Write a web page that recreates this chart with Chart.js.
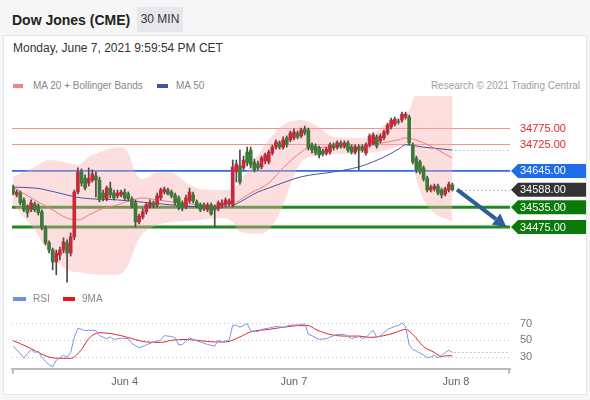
<!DOCTYPE html>
<html>
<head>
<meta charset="utf-8">
<script src="https://cdn.jsdelivr.net/npm/chart.js@4.4.0/dist/chart.umd.min.js"></script>
<style>
  body { margin: 0; width: 590px; height: 400px; background: #f6f6f6; position: relative; overflow: hidden;
         font-family: 'Liberation Sans', Arial, sans-serif; }
  .panel { position: absolute; left: 3px; top: 35px; width: 584px; height: 360px; background: #fff;
           border: 1px solid #e6e6e6; box-sizing: border-box; }
  .title { position: absolute; left: 12px; top: 12px; font-size: 14px; font-weight: bold; color: #222; }
  .tf { position: absolute; left: 137px; top: 7px; width: 46px; height: 25px; line-height: 25px; text-align: center;
        background: #e8e8ec; font-size: 12px; color: #333; }
  .date { position: absolute; left: 13px; top: 41px; font-size: 12px; color: #333; }
  .lg { position: absolute; font-size: 10px; line-height: 12px; color: #888; white-space: nowrap; z-index: 2; }
  .sw { position: absolute; height: 4px; z-index: 2; }
  canvas { position: absolute; left: 0; }
</style>
</head>
<body>
<div class="panel"></div>
<div class="title">Dow Jones (CME)</div>
<div class="tf">30 MIN</div>
<div class="date">Monday, June 7, 2021 9:59:54 PM CET</div>

<div class="sw" style="left:13px; top:84px; width:10px; background:#f08585;"></div>
<div class="lg" style="left:33px; top:80px;">MA 20 + Bollinger Bands</div>
<div class="sw" style="left:157px; top:84px; width:11px; background:#3d5a9e;"></div>
<div class="lg" style="left:176px; top:80px;">MA 50</div>
<div class="lg" style="right:10px; top:80px; color:#a0a0a0;">Research © 2021 Trading Central</div>

<div class="sw" style="left:13px; top:297px; width:13px; background:#6f8fe0;"></div>
<div class="lg" style="left:33px; top:293px;">RSI</div>
<div class="sw" style="left:63px; top:297px; width:12px; background:#e8141e;"></div>
<div class="lg" style="left:82px; top:293px;">9MA</div>

<canvas id="mainChart" width="590" height="192" style="top:96px;"></canvas>
<canvas id="rsiChart" width="590" height="100" style="top:296px;"></canvas>

<script>
// 30 min candles, Jun 3 -> Jun 7 evening
const opens = [34593,34572,34578,34557,34536,34527,34545,34539,34521,34472,
  34427,34405,34369,34390,34405,34427,34396,34445,34581,34642,
  34623,34608,34617,34630,34617,34578,34560,34593,34578,34569,
  34572,34581,34575,34560,34548,34490,34505,34521,34539,34548,
  34542,34563,34581,34587,34581,34572,34563,34548,34536,34554,
  34572,34551,34542,34542,34527,34542,34536,34530,34539,34542,
  34545,34542,34642,34660,34654,34702,34708,34672,34666,34657,
  34675,34672,34699,34717,34730,34717,34745,34739,34745,34760,
  34751,34772,34769,34724,34720,34715,34705,34699,34702,34724,
  34717,34730,34720,34730,34717,34702,34717,34717,34699,34724,
  34727,34748,34736,34745,34760,34778,34787,34796,34799,34808,
  34808,34724,34684,34672,34654,34623,34587,34590,34599,34587,
  34575,34587,34602];
const highs = [34602,34587,34584,34563,34542,34557,34551,34545,34527,34478,
  34433,34411,34405,34414,34442,34436,34457,34587,34654,34651,
  34633,34654,34648,34642,34626,34587,34599,34611,34587,34587,
  34587,34590,34581,34566,34557,34514,34530,34548,34557,34554,
  34578,34593,34596,34593,34587,34578,34569,34554,34572,34593,
  34581,34557,34548,34548,34548,34548,34542,34554,34557,34563,
  34560,34678,34678,34708,34690,34717,34717,34681,34675,34690,
  34699,34708,34723,34739,34736,34748,34751,34766,34772,34766,
  34775,34781,34775,34730,34727,34720,34711,34717,34730,34730,
  34736,34736,34736,34736,34724,34724,34724,34724,34730,34757,
  34760,34754,34757,34769,34790,34805,34808,34802,34823,34823,
  34814,34730,34690,34678,34660,34629,34602,34605,34605,34593,
  34596,34611,34608];
const lows = [34572,34566,34542,34521,34505,34521,34521,34511,34466,34421,
  34396,34345,34330,34375,34396,34308,34387,34436,34575,34599,
  34587,34599,34611,34566,34551,34554,34554,34563,34557,34563,
  34566,34557,34554,34533,34475,34484,34499,34514,34533,34533,
  34536,34557,34575,34572,34563,34542,34527,34524,34530,34548,
  34548,34533,34521,34524,34521,34511,34475,34524,34533,34536,
  34539,34536,34611,34605,34648,34660,34654,34642,34648,34651,
  34666,34666,34693,34711,34711,34711,34717,34733,34739,34742,
  34745,34754,34708,34699,34693,34684,34690,34693,34696,34708,
  34711,34714,34714,34702,34696,34696,34648,34702,34693,34717,
  34724,34714,34730,34739,34754,34772,34781,34787,34793,34802,
  34724,34666,34639,34636,34614,34581,34581,34584,34572,34563,
  34569,34581,34584];
const closes = [34578,34581,34548,34527,34518,34548,34527,34518,34472,34427,
  34405,34369,34396,34405,34430,34396,34445,34581,34642,34608,
  34593,34623,34636,34617,34557,34563,34593,34572,34563,34578,
  34581,34563,34560,34539,34490,34508,34521,34542,34548,34539,
  34569,34587,34590,34575,34569,34548,34533,34533,34563,34581,
  34554,34539,34527,34530,34542,34514,34527,34548,34548,34557,
  34554,34657,34666,34611,34678,34669,34663,34648,34654,34684,
  34693,34702,34717,34733,34717,34739,34724,34760,34763,34748,
  34769,34760,34715,34708,34699,34693,34696,34711,34724,34715,
  34730,34720,34730,34708,34702,34717,34708,34708,34724,34751,
  34754,34720,34751,34763,34784,34799,34802,34793,34817,34817,
  34730,34672,34648,34642,34620,34587,34596,34599,34578,34572,
  34590,34605,34588];

// indicators as [candle index, value]
const ma20Pts = [[0,34596],[6,34557],[10,34533],[15,34502],[18,34496],[21,34511],[24,34527],[29,34542],
  [33,34557],[36,34563],[40,34557],[44,34551],[52,34542],[60,34536],[62,34550],[66,34578],[71,34608],
  [75,34654],[80,34702],[82,34714],[89,34717],[98,34720],[104,34733],[107,34739],[109,34745],[114,34730],[122,34684]];
const ma50Pts = [[0,34596],[6,34593],[8,34590],[15,34572],[19,34563],[29,34557],[38,34548],[44,34542],
  [52,34536],[60,34536],[62,34545],[68,34581],[71,34593],[80,34627],[89,34642],[96,34657],[103,34687],
  [107,34711],[109,34724],[114,34717],[122,34708]];
const bbUpperPts = [[0,34627],[6,34657],[10,34678],[15,34669],[18,34663],[21,34687],[24,34702],[29,34717],
  [32,34700],[34,34640],[36,34620],[40,34640],[44,34640],[48,34610],[52,34590],[58,34587],[62,34600],
  [66,34663],[71,34739],[75,34784],[80,34799],[84,34784],[89,34748],[98,34745],[103,34784],[107,34805],
  [110,34830],[112,34880],[122,34880]];
const bbLowerPts = [[0,34542],[6,34466],[10,34396],[15,34345],[19,34336],[24,34330],[29,34330],[32,34360],
  [35,34440],[40,34480],[44,34490],[52,34496],[58,34502],[61,34490],[63,34460],[69,34455],[72,34480],
  [75,34540],[78,34630],[80,34670],[84,34690],[98,34699],[104,34708],[108,34724],[110,34730],[112,34620],
  [115,34540],[122,34490]];

const rsiPts = [[0,42.7],[1,39],[3,29],[4,34],[5,39],[6,35.5],[7,37],[8,30],[9,24.5],[10,21],[11,18.5],
  [12,26],[14,32],[15,30],[16,35.5],[17,53.5],[18,64.5],[20,61.5],[21,62],[23,61.5],[24,55.5],[26,51.8],
  [27,54],[28,51],[30,52.5],[32,52],[33,46.3],[35,41],[37,44.5],[39,48],[41,50],[42,55.5],[44,54.5],
  [45,53],[46,44.5],[47,45],[49,53],[50,51],[52,48],[54,45],[56,43],[57,50],[58,48],[60,50],[61,68],
  [62,68],[63,65.5],[65,70],[66,61],[68,60.5],[69,63],[71,64.5],[73,66.5],[75,65.5],[77,68],[80,68.5],
  [81,70],[82,57],[83,55.5],[85,51],[87,52],[89,55.5],[90,57],[92,57],[94,52],[96,54.5],[97,52],
  [98,53.5],[100,62],[101,53.5],[102,55.5],[104,63],[106,66.5],[107,67.5],[108,70.5],[109,66.5],
  [110,44.5],[111,39],[112,37],[114,32.5],[115,29],[116,30],[117,32],[118,29],[119,32],[120,35.5],
  [121,38],[122,35.5]];
const rsiMaPts = [[0,49.5],[2,46],[5,40],[7,35.5],[10,30],[13,28.5],[16,28.5],[19,39],[21,52],[24,59],
  [27,58],[30,55.5],[33,52],[37,48],[41,47.5],[44,50],[48,51],[52,49.5],[56,48],[59,48],[63,54],[66,60],
  [71,63],[75,65.5],[80,67.5],[82,67.5],[84,63],[88,57],[92,55],[96,55],[99,53.5],[103,55.5],[106,59],
  [109,63],[111,57],[114,42.5],[117,35.5],[119,30.5],[120,31.5],[122,31.5]];

const dateTickIdx = [31, 78, 123];
const dateTickText = ['Jun 4', 'Jun 7', 'Jun 8'];
const rsiTicks = [30, 50, 70];

const resistance = [34775, 34725];
const pivot = 34645;
const support = [34535, 34475];
const arrowTarget = 34475;
const arrowTargetIdx = 137;
const lastSlot = 138;

const FONT = "'Liberation Sans', Arial, sans-serif";
Chart.defaults.font.family = FONT;

const toXY = pts => pts.map(p => ({ x: p[0], y: p[1] }));
const lastIdx = closes.length - 1;
const upColor = '#c8283a';
const downColor = '#3b7b36';
const bodyColors = closes.map((c, i) => c >= opens[i] ? upColor : downColor);

function hline(ctx, x0, x1, y, color, width, dash) {
  ctx.save();
  ctx.strokeStyle = color;
  ctx.lineWidth = width;
  ctx.setLineDash(dash || []);
  ctx.beginPath();
  ctx.moveTo(x0, y);
  ctx.lineTo(x1, y);
  ctx.stroke();
  ctx.restore();
}

function tag(ctx, right, y, color, text) {
  ctx.fillStyle = color;
  ctx.beginPath();
  ctx.moveTo(right + 1, y);
  ctx.lineTo(right + 8, y - 7);
  ctx.lineTo(right + 76, y - 7);
  ctx.lineTo(right + 76, y + 7);
  ctx.lineTo(right + 8, y + 7);
  ctx.closePath();
  ctx.fill();
  ctx.fillStyle = '#fff';
  ctx.fillText(text, right + 10, y + 0.5);
}

const levelPlugin = {
  id: 'levels',
  beforeDatasetsDraw(chart) {
    const { ctx, chartArea: a, scales: { y } } = chart;
    resistance.forEach(v => hline(ctx, a.left, a.right, Math.round(y.getPixelForValue(v)) + 0.5, '#f3918d', 1));
    hline(ctx, a.left, a.right, y.getPixelForValue(pivot), '#2f6af0', 1.6);
    support.forEach(v => hline(ctx, a.left, a.right, y.getPixelForValue(v), '#1d8a1d', 3));
  },
  afterDraw(chart) {
    const { ctx, chartArea: a, scales: { x, y } } = chart;
    const endX = x.getPixelForValue(lastIdx) + 3;
    const ma50Last = ma50Pts[ma50Pts.length - 1][1];
    hline(ctx, endX, a.right, Math.round(y.getPixelForValue(ma50Last)) + 0.5, '#8899bb', 1, [1, 3]);
    hline(ctx, endX + 2, a.right, Math.round(y.getPixelForValue(closes[lastIdx])) + 0.5, '#777', 1, [1, 3]);

    ctx.save();
    ctx.font = '11px ' + FONT;
    ctx.textBaseline = 'middle';
    ctx.textAlign = 'left';
    ctx.fillStyle = '#e0262e';
    resistance.forEach(v => ctx.fillText(v.toFixed(2), a.right + 10, y.getPixelForValue(v) + 0.5));
    tag(ctx, a.right, y.getPixelForValue(pivot), '#1f6ce8', pivot.toFixed(2));
    tag(ctx, a.right, y.getPixelForValue(closes[lastIdx]), '#333333', closes[lastIdx].toFixed(2));
    support.forEach(v => tag(ctx, a.right, y.getPixelForValue(v), '#0b7a0b', v.toFixed(2)));

    // projected move arrow
    const x0 = x.getPixelForValue(lastIdx + 1.3), y0 = y.getPixelForValue(closes[lastIdx]);
    const x1 = x.getPixelForValue(arrowTargetIdx), y1 = y.getPixelForValue(arrowTarget);
    const ang = Math.atan2(y1 - y0, x1 - x0);
    const head = 13, half = 7;
    const bx = x1 - head * Math.cos(ang), by = y1 - head * Math.sin(ang);
    ctx.strokeStyle = '#2e5d9b';
    ctx.fillStyle = '#2e5d9b';
    ctx.lineWidth = 4;
    ctx.beginPath();
    ctx.moveTo(x0, y0);
    ctx.lineTo(bx, by);
    ctx.stroke();
    ctx.beginPath();
    ctx.moveTo(x1, y1);
    ctx.lineTo(bx + half * Math.sin(ang), by - half * Math.cos(ang));
    ctx.lineTo(bx - half * Math.sin(ang), by + half * Math.cos(ang));
    ctx.closePath();
    ctx.fill();
    ctx.restore();
  }
};

new Chart(document.getElementById('mainChart'), {
  type: 'bar',
  data: {
    datasets: [
      { type: 'bar', data: opens.map((o, i) => ({ x: i, y: [o, closes[i]] })), backgroundColor: bodyColors,
        barThickness: 3, grouped: false, order: 0 },
      { type: 'bar', data: lows.map((l, i) => ({ x: i, y: [l, highs[i]] })), backgroundColor: '#4a4a4a',
        barThickness: 1, grouped: false, order: 1 },
      { type: 'line', data: toXY(ma20Pts), borderColor: '#f07a7a', borderWidth: 1, pointRadius: 0,
        cubicInterpolationMode: 'monotone', order: 2 },
      { type: 'line', data: toXY(ma50Pts), borderColor: '#44569c', borderWidth: 1, pointRadius: 0,
        cubicInterpolationMode: 'monotone', order: 3 },
      { type: 'line', data: toXY(bbUpperPts), borderWidth: 0, pointRadius: 0, fill: '+1',
        backgroundColor: 'rgba(250, 172, 172, 0.4)', cubicInterpolationMode: 'monotone', order: 5 },
      { type: 'line', data: toXY(bbLowerPts), borderWidth: 0, pointRadius: 0, fill: false,
        cubicInterpolationMode: 'monotone', order: 4 }
    ]
  },
  options: {
    responsive: false,
    animation: false,
    events: [],
    layout: { padding: { left: 12, right: 80, top: 0, bottom: 0 } },
    plugins: { legend: { display: false }, tooltip: { enabled: false } },
    scales: {
      x: { type: 'linear', min: -0.3, max: lastSlot, offset: false, bounds: 'data', display: false },
      y: { min: 34290, max: 34872, display: false }
    }
  },
  plugins: [levelPlugin]
});

const rsiExtras = {
  id: 'rsiExtras',
  afterDraw(chart) {
    const { ctx, chartArea: a, scales: { x, y } } = chart;
    const lastRsi = rsiPts[rsiPts.length - 1];
    hline(ctx, x.getPixelForValue(lastRsi[0]) + 2, a.right, Math.round(y.getPixelForValue(lastRsi[1])) + 0.5, '#999', 1, [1, 3]);
    ctx.save();
    ctx.strokeStyle = '#bbb';
    ctx.lineWidth = 2;
    ctx.beginPath();
    ctx.moveTo(a.left + 1, a.bottom);
    ctx.lineTo(a.left + 1, a.bottom + 5);
    ctx.moveTo(a.right - 1, a.bottom);
    ctx.lineTo(a.right - 1, a.bottom + 5);
    ctx.stroke();
    ctx.restore();
  }
};

new Chart(document.getElementById('rsiChart'), {
  type: 'line',
  data: {
    datasets: [
      { data: toXY(rsiPts), borderColor: '#7b97e4', borderWidth: 1, pointRadius: 0 },
      { data: toXY(rsiMaPts), borderColor: '#e3262e', borderWidth: 1, pointRadius: 0, cubicInterpolationMode: 'monotone' }
    ]
  },
  options: {
    responsive: false,
    animation: false,
    events: [],
    layout: { padding: { left: 12, top: 12, right: 0, bottom: 0 } },
    plugins: { legend: { display: false }, tooltip: { enabled: false } },
    scales: {
      x: {
        type: 'linear', min: -0.3, max: lastSlot,
        grid: { display: false, drawTicks: false },
        border: { display: true, color: '#bbb', width: 2 },
        afterBuildTicks: s => { s.ticks = dateTickIdx.map(v => ({ value: v })); },
        ticks: { autoSkip: false, maxRotation: 0, padding: 7, color: '#666', font: { size: 11 },
                 callback: v => dateTickText[dateTickIdx.indexOf(v)] }
      },
      y: {
        position: 'right', min: 16, max: 83,
        afterFit: s => { s.width = 80; },
        afterBuildTicks: s => { s.ticks = rsiTicks.map(v => ({ value: v })); },
        grid: { color: '#c4c4c4', drawTicks: false, lineWidth: 1 },
        border: { display: false, dash: [1, 3] },
        ticks: { padding: 10, color: '#777', font: { size: 11 } }
      }
    }
  },
  plugins: [rsiExtras]
});
</script>
</body>
</html>
